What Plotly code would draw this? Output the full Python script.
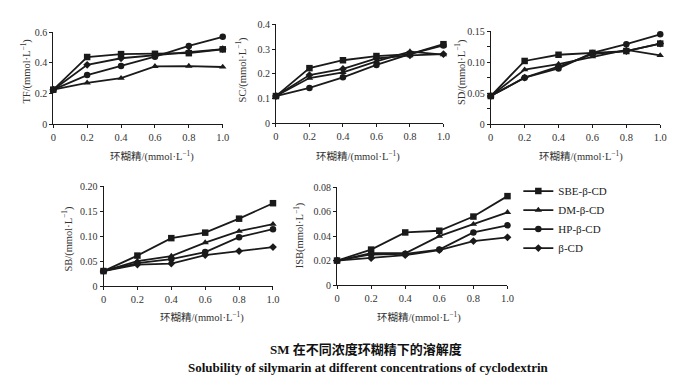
import plotly.graph_objects as go

W, H = 682, 387

x_conc = [0, 0.2, 0.4, 0.6, 0.8, 1.0]
series_names = ["SBE-β-CD", "DM-β-CD", "HP-β-CD", "β-CD"]
symbols = ["square", "triangle-up", "circle", "diamond"]

# TF
tf_sbe = [0.225, 0.438, 0.457, 0.459, 0.463, 0.488]
tf_dm = [0.225, 0.270, 0.300, 0.377, 0.379, 0.373]
tf_hp = [0.225, 0.320, 0.380, 0.440, 0.510, 0.570]
tf_b = [0.225, 0.387, 0.430, 0.450, 0.470, 0.490]
# SC
sc_sbe = [0.11, 0.223, 0.255, 0.272, 0.280, 0.320]
sc_dm = [0.11, 0.183, 0.206, 0.250, 0.290, 0.278]
sc_hp = [0.11, 0.143, 0.186, 0.236, 0.280, 0.315]
sc_b = [0.11, 0.195, 0.220, 0.262, 0.275, 0.280]
# SD
sd_sbe = [0.0455, 0.102, 0.112, 0.115, 0.118, 0.130]
sd_dm = [0.0455, 0.088, 0.097, 0.109, 0.120, 0.111]
sd_hp = [0.0455, 0.075, 0.090, 0.115, 0.129, 0.145]
sd_b = [0.0455, 0.075, 0.093, 0.113, 0.118, 0.130]
# SB
sb_sbe = [0.030, 0.061, 0.096, 0.107, 0.135, 0.166]
sb_dm = [0.030, 0.050, 0.060, 0.087, 0.110, 0.124]
sb_hp = [0.030, 0.046, 0.054, 0.068, 0.098, 0.114]
sb_b = [0.030, 0.043, 0.045, 0.062, 0.070, 0.078]
# ISB
isb_sbe = [0.020, 0.029, 0.043, 0.0444, 0.056, 0.0727]
isb_dm = [0.020, 0.026, 0.026, 0.040, 0.0498, 0.0595]
isb_hp = [0.020, 0.025, 0.0255, 0.029, 0.043, 0.0488]
isb_b = [0.020, 0.022, 0.0244, 0.0286, 0.036, 0.039]

x_tickvals = [0, 0.2, 0.4, 0.6, 0.8, 1.0]
x_ticktext = ["0", "0.2", "0.4", "0.6", "0.8", "1.0"]

panels = [
    dict(data=[tf_sbe, tf_dm, tf_hp, tf_b], ytitle="TF/(mmol·L<sup>−1</sup>)",
         yvals=[0, 0.2, 0.4, 0.6], ytext=["0", "0.2", "0.4", "0.6"], yr=0.6, minor=None,
         px=(51, 223, 27, 122), ytpos=(23, 67), xtpos=(151, 155)),
    dict(data=[sc_sbe, sc_dm, sc_hp, sc_b], ytitle="SC/(mmol·L<sup>−1</sup>)",
         yvals=[0, 0.1, 0.2, 0.3, 0.4], ytext=["0", "0.1", "0.2", "0.3", "0.4"], yr=0.4, minor=None,
         px=(277, 447, 19, 121), ytpos=(242, 65), xtpos=(360, 155)),
    dict(data=[sd_sbe, sd_dm, sd_hp, sd_b], ytitle="SD/(mmol·L<sup>−1</sup>)",
         yvals=[0, 0.05, 0.10, 0.15], ytext=["0", "0.05", "0.10", "0.15"], yr=0.15, minor=0.025,
         px=(495, 667, 26, 122), ytpos=(464, 68), xtpos=(587, 155)),
    dict(data=[sb_sbe, sb_dm, sb_hp, sb_b], ytitle="SB/(mmol·L<sup>−1</sup>)",
         yvals=[0, 0.05, 0.10, 0.15, 0.20], ytext=["0", "0.05", "0.10", "0.15", "0.20"], yr=0.20, minor=None,
         px=(102, 274, 186, 289), ytpos=(65, 240), xtpos=(202, 321)),
    dict(data=[isb_sbe, isb_dm, isb_hp, isb_b], ytitle="ISB(mmol·L<sup>−1</sup>)",
         yvals=[0, 0.02, 0.04, 0.06, 0.08], ytext=["0", "0.02", "0.04", "0.06", "0.08"], yr=0.08, minor=None,
         px=(339, 512, 187, 288), ytpos=(300, 237), xtpos=(422, 321)),
]

SERIF = "Liberation Serif, Times New Roman, serif"
CJK = "Liberation Serif, Noto Sans CJK SC, serif"
INK = "#1a1a1a"

fig = go.Figure()
layout = dict(width=W, height=H, margin=dict(l=0, r=0, t=0, b=0),
              paper_bgcolor="white", plot_bgcolor="white", annotations=[])

for i, p in enumerate(panels):
    n = "" if i == 0 else str(i + 1)
    x0, x1, y0, y1 = p["px"]
    for k, (vals, name, sym) in enumerate(zip(p["data"], series_names, symbols)):
        fig.add_trace(go.Scatter(
            x=x_conc, y=vals, mode="lines+markers", name=name,
            xaxis="x" + n, yaxis="y" + n, showlegend=(i == 0), cliponaxis=False,
            line=dict(color=INK, width=1.8),
            marker=dict(symbol=sym, size=6.5 if sym != "diamond" else 6, color=INK),
        ))
    xa = dict(domain=[x0 / W, x1 / W], range=[0, 1.0], anchor="y" + n,
              showline=True, linecolor=INK, linewidth=1, ticks="outside", ticklen=3,
              tickcolor=INK, tickvals=x_tickvals, ticktext=x_ticktext,
              tickfont=dict(family=SERIF, size=10.5, color="#333"),
              showgrid=False, zeroline=False, fixedrange=True)
    ya = dict(domain=[1 - y1 / H, 1 - y0 / H], range=[0, p["yr"]], anchor="x" + n,
              showline=True, linecolor=INK, linewidth=1, ticks="outside", ticklen=3,
              tickcolor=INK, tickvals=p["yvals"], ticktext=p["ytext"],
              tickfont=dict(family=SERIF, size=10, color="#333"),
              showgrid=False, zeroline=False, fixedrange=True)
    if p["minor"]:
        ya["minor"] = dict(dtick=p["minor"], tick0=0, ticks="outside", ticklen=3, tickcolor=INK)
    layout["xaxis" + n] = xa
    layout["yaxis" + n] = ya
    layout["annotations"].append(dict(
        text=p["ytitle"], textangle=-90, xref="paper", yref="paper",
        x=p["ytpos"][0] / W, y=1 - p["ytpos"][1] / H, xanchor="center", yanchor="middle",
        showarrow=False, font=dict(family=CJK, size=10.5, color="#333")))
    layout["annotations"].append(dict(
        text="环糊精/(mmol·L<sup>−1</sup>)", xref="paper", yref="paper",
        x=p["xtpos"][0] / W, y=1 - p["xtpos"][1] / H, xanchor="center", yanchor="middle",
        showarrow=False, font=dict(family=CJK, size=10.5, color="#333")))

layout["annotations"].append(dict(
    text="<b>SM 在不同浓度环糊精下的溶解度</b>", xref="paper", yref="paper",
    x=368 / W, y=1 - 354 / H, xanchor="center", yanchor="middle", showarrow=False,
    font=dict(family=CJK, size=13, color="#111")))
layout["annotations"].append(dict(
    text="<b>Solubility of silymarin at different concentrations of cyclodextrin</b>",
    xref="paper", yref="paper",
    x=371 / W, y=1 - 373 / H, xanchor="center", yanchor="middle", showarrow=False,
    font=dict(family=SERIF, size=13, color="#111")))

layout["legend"] = dict(x=523 / W, y=1 - 176 / H, xanchor="left", yanchor="top",
                        bgcolor="rgba(0,0,0,0)", itemwidth=30, tracegroupgap=0,
                        font=dict(family=SERIF, size=11, color="#222"))
layout["showlegend"] = True

fig.update_layout(**layout)
fig.write_html("out.html", config={"displayModeBar": False},
               post_script="document.body.style.margin='0';")
